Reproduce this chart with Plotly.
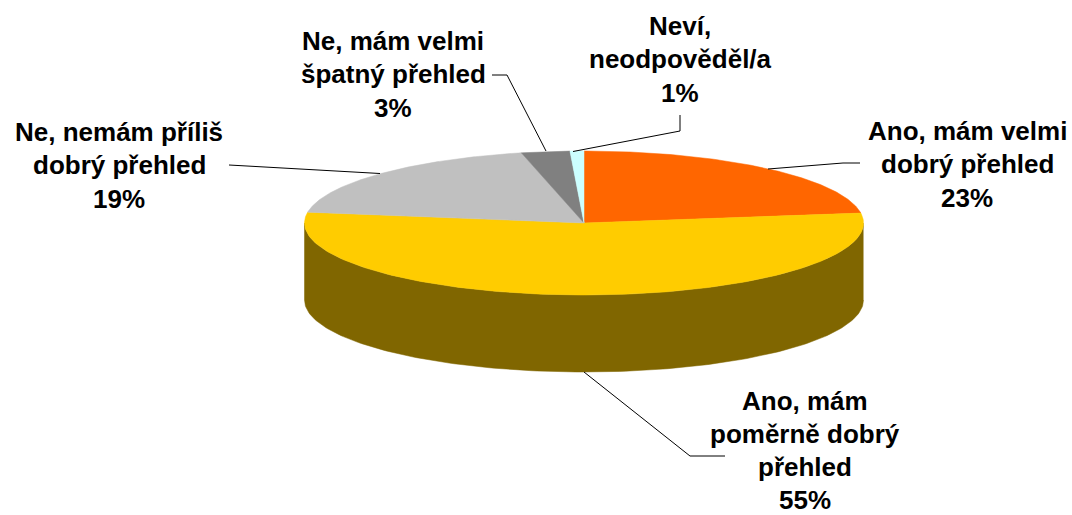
import numpy as np
import plotly.graph_objects as go

# Data
categories = [
    ["Ano, mám velmi", "dobrý přehled"],
    ["Ano, mám", "poměrně dobrý", "přehled"],
    ["Ne, nemám příliš", "dobrý přehled"],
    ["Ne, mám velmi", "špatný přehled"],
    ["Neví,", "neodpověděl/a"],
]
values = [22.8, 54.6, 19.0, 2.8, 0.8]
percent_labels = ["23%", "55%", "19%", "3%", "1%"]

# Styles
top_colors = ["#FF6600", "#FFCC00", "#C0C0C0", "#808080", "#CCFFFF"]
side_colors = ["#803300", "#806600", "#606060", "#404040", "#668080"]
CX, CY, RX, RY, DEPTH = 584, 223, 279.5, 72, 77
FONT = dict(family="Liberation Sans, Arial, sans-serif", size=26, color="black")
LINE_GAP = 33.3
label_pos = [(967, 131), (805, 400.5), (119, 132), (393, 41), (680, 26)]
leaders = [
    [(768, 169), (843, 163), (860, 163)],
    [(584, 372), (690, 456), (725, 456)],
    [(229, 165), (380, 173.5)],
    [(492, 75), (507, 75), (546, 151)],
    [(680, 115), (680, 131), (573, 151.5)],
]


def ellipse(theta, dy=0.0):
    t = np.radians(theta)
    return CX + RX * np.sin(t), CY - RY * np.cos(t) + dy


fig = go.Figure()
bounds = np.concatenate([[0], np.cumsum(values)]) / sum(values) * 360

# Side wall: only the front half (90 to 270 degrees) is visible
for i, color in enumerate(side_colors):
    a, b = max(bounds[i], 90), min(bounds[i + 1], 270)
    if a >= b:
        continue
    th = np.linspace(a, b, 160)
    x1, y1 = ellipse(th)
    x2, y2 = ellipse(th[::-1], DEPTH)
    fig.add_trace(go.Scatter(x=np.r_[x1, x2], y=np.r_[y1, y2], mode="lines", fill="toself",
                             fillcolor=color, line=dict(width=0.5, color=color), hoverinfo="skip"))

# Top face
for i, color in enumerate(top_colors):
    th = np.linspace(bounds[i], bounds[i + 1], 200)
    x, y = ellipse(th)
    fig.add_trace(go.Scatter(x=np.r_[CX, x, CX], y=np.r_[CY, y, CY], mode="lines", fill="toself",
                             fillcolor=color, line=dict(width=0.5, color=color), hoverinfo="skip"))

# Leader lines
for pts in leaders:
    fig.add_trace(go.Scatter(x=[p[0] for p in pts], y=[p[1] for p in pts], mode="lines",
                             line=dict(width=1, color="black"), hoverinfo="skip"))

# Labels, one annotation per line for exact line spacing
for lines, pct, (lx, ly) in zip(categories, percent_labels, label_pos):
    for j, text in enumerate(lines + [pct]):
        fig.add_annotation(x=lx, y=ly + j * LINE_GAP, text=f"<b>{text}</b>", showarrow=False,
                           xanchor="center", yanchor="middle", font=FONT)

fig.update_layout(
    width=1072, height=515, margin=dict(l=0, r=0, t=0, b=0),
    paper_bgcolor="white", plot_bgcolor="white", showlegend=False,
    xaxis=dict(range=[0, 1072], visible=False, fixedrange=True),
    yaxis=dict(range=[515, 0], visible=False, fixedrange=True),
)
fig.write_html("out.html", config={"displayModeBar": False},
               post_script="document.body.style.margin='0';")
